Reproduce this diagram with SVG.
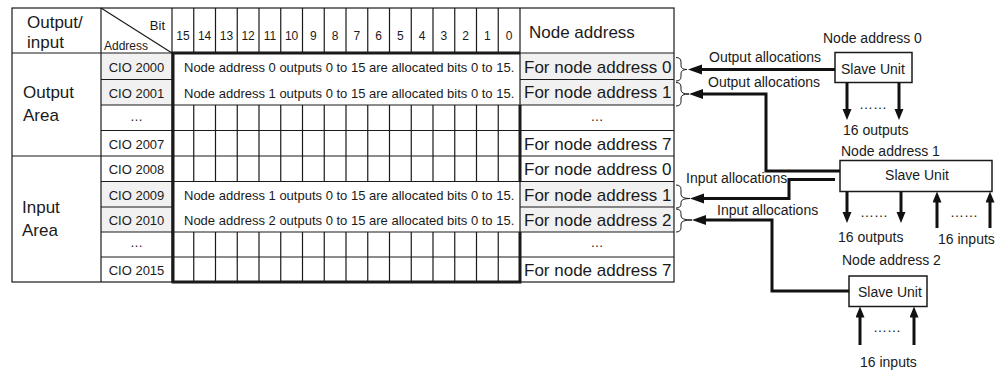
<svg xmlns="http://www.w3.org/2000/svg" width="1002" height="372" viewBox="0 0 1002 372">
<style>
text{font-family:"Liberation Sans",Arial,sans-serif;fill:#1a1a1a}
.s13{font-size:13px}.s12{font-size:12px}.s17{font-size:17px}.s14{font-size:14px}
.ln{stroke:#1a1a1a;stroke-width:1.2;fill:none}
.thk{stroke:#1a1a1a;stroke-width:3;fill:none}
.gray{fill:#f1f1f1}
.box{fill:#fff;stroke:#1a1a1a;stroke-width:1.5}
.con{stroke:#111;stroke-width:3;fill:none}
.br{stroke:#1a1a1a;stroke-width:1;fill:none}
.mid{text-anchor:middle}
</style>
<defs>
<marker id="ah" markerUnits="userSpaceOnUse" markerWidth="15" markerHeight="11" refX="3" refY="5" orient="auto"><path d="M0,0 L14,5 L0,10 z" fill="#111"/></marker>
<marker id="as" markerUnits="userSpaceOnUse" markerWidth="12" markerHeight="10" refX="2" refY="4.5" orient="auto"><path d="M0,0 L11,4.5 L0,9 z" fill="#111"/></marker>
</defs>
<rect width="1002" height="372" fill="#fff"/>
<g id="table">
<rect class="gray" x="101" y="53" width="71" height="52"/>
<rect class="gray" x="101" y="181.5" width="71" height="50.5"/>
<rect class="gray" x="520" y="53" width="154" height="52"/>
<rect class="gray" x="520" y="181.5" width="154" height="50.5"/>
<rect class="ln" x="12" y="8" width="662" height="274"/>
<line class="ln" x1="12" y1="53" x2="674" y2="53"/>
<line class="ln" x1="12" y1="156" x2="674" y2="156"/>
<line class="ln" x1="101" y1="8" x2="101" y2="282"/>
<line class="ln" x1="172" y1="8" x2="172" y2="282"/>
<line class="ln" x1="520" y1="8" x2="520" y2="282"/>
<line class="ln" x1="101" y1="8" x2="172" y2="53"/>
<path class="ln" d="M101,79.5H172M101,105H172M101,130.5H172M101,181.5H172M101,207H172M101,232H172M101,257H172"/>
<path class="ln" d="M520,79.5H674M520,105H674M520,130.5H674M520,181.5H674M520,207H674M520,232H674M520,257H674"/>
<path class="ln" d="M172,105H520M172,130.5H520M172,181.5H520M172,232H520M172,257H520"/>
<path class="ln" d="M193.75,8V53M215.5,8V53M237.25,8V53M259,8V53M280.75,8V53M302.5,8V53M324.25,8V53M346,8V53M367.75,8V53M389.5,8V53M411.25,8V53M433,8V53M454.75,8V53M476.5,8V53M498.25,8V53"/>
<path class="ln" d="M193.75,105V181.5M215.5,105V181.5M237.25,105V181.5M259,105V181.5M280.75,105V181.5M302.5,105V181.5M324.25,105V181.5M346,105V181.5M367.75,105V181.5M389.5,105V181.5M411.25,105V181.5M433,105V181.5M454.75,105V181.5M476.5,105V181.5M498.25,105V181.5"/>
<path class="ln" d="M193.75,232V282M215.5,232V282M237.25,232V282M259,232V282M280.75,232V282M302.5,232V282M324.25,232V282M346,232V282M367.75,232V282M389.5,232V282M411.25,232V282M433,232V282M454.75,232V282M476.5,232V282M498.25,232V282"/>
<path class="thk" d="M520,105V181.5M520,232V282H173V53H520"/>
<text class="s17" x="27" y="28">Output/</text>
<text class="s17" x="27" y="47.5">input</text>
<text class="s13" x="165" y="30" text-anchor="end">Bit</text>
<text class="s12" x="104" y="50">Address</text>
<g class="s12 mid">
<text x="182.9" y="40">15</text><text x="204.6" y="40">14</text><text x="226.4" y="40">13</text><text x="248.1" y="40">12</text>
<text x="269.9" y="40">11</text><text x="291.6" y="40">10</text><text x="313.4" y="40">9</text><text x="335.1" y="40">8</text>
<text x="356.9" y="40">7</text><text x="378.6" y="40">6</text><text x="400.4" y="40">5</text><text x="422.1" y="40">4</text>
<text x="443.9" y="40">3</text><text x="465.6" y="40">2</text><text x="487.4" y="40">1</text><text x="509.1" y="40">0</text>
</g>
<text class="s17" x="529" y="38">Node address</text>
<text class="s17" x="23" y="98">Output</text>
<text class="s17" x="23" y="121">Area</text>
<text class="s17" x="22" y="213">Input</text>
<text class="s17" x="22" y="236">Area</text>
<g class="s13 mid">
<text x="136.5" y="72">CIO 2000</text>
<text x="136.5" y="97.5">CIO 2001</text>
<text x="136.5" y="121">…</text>
<text x="136.5" y="148.5">CIO 2007</text>
<text x="136.5" y="174">CIO 2008</text>
<text x="136.5" y="199.5">CIO 2009</text>
<text x="136.5" y="224.5">CIO 2010</text>
<text x="136.5" y="247">…</text>
<text x="136.5" y="274.5">CIO 2015</text>
</g>
<g class="s13">
<text x="184" y="72">Node address 0 outputs 0 to 15 are allocated bits 0 to 15.</text>
<text x="184" y="97.5">Node address 1 outputs 0 to 15 are allocated bits 0 to 15.</text>
<text x="184" y="200">Node address 1 outputs 0 to 15 are allocated bits 0 to 15.</text>
<text x="184" y="225">Node address 2 outputs 0 to 15 are allocated bits 0 to 15.</text>
</g>
<g class="s17">
<text x="524" y="72.5">For node address 0</text>
<text x="524" y="98">For node address 1</text>
<text x="597" y="121" class="s13 mid">…</text>
<text x="524" y="149.5">For node address 7</text>
<text x="524" y="175">For node address 0</text>
<text x="524" y="200.5">For node address 1</text>
<text x="524" y="225.5">For node address 2</text>
<text x="597" y="247" class="s13 mid">…</text>
<text x="524" y="275.5">For node address 7</text>
</g>
<path class="br" d="M676,57.5Q681,57.5 681,62V65.5Q681,69.5 687,69.5Q681,69.5 681,73.5V76.5Q681,81 676,81"/>
<path class="br" d="M676,82.5Q681,82.5 681,87V90Q681,94 689,94Q681,94 681,98V101.5Q681,106 676,106"/>
<path class="br" d="M676,185Q681,185 681,189.5V194.5Q681,198.5 690,198.5Q681,198.5 681,202.5V204Q681,208 676,208"/>
<path class="br" d="M676,209Q681,209 681,213.5V216Q681,220 692,220Q681,220 681,224V227.5Q681,232 676,232"/>
</g>
<g id="slave0">
<text class="s14" x="823" y="43">Node address 0</text>
<rect class="box" x="835" y="52.5" width="77" height="30"/>
<text class="s14" x="841" y="74">Slave Unit</text>
<text class="s14" x="843" y="135">16 outputs</text>
<text class="s14 mid" x="873" y="109">……</text>
</g>
<g id="slave1">
<text class="s14" x="841" y="155.5">Node address 1</text>
<rect class="box" x="840" y="160.5" width="152" height="31"/>
<text class="s14 mid" x="917" y="180">Slave Unit</text>
<text class="s14 mid" x="874" y="217">……</text>
<text class="s14 mid" x="964" y="217">……</text>
<text class="s14" x="838" y="242">16 outputs</text>
<text class="s14" x="938" y="244">16 inputs</text>
</g>
<g id="slave2">
<text class="s14" x="842" y="265">Node address 2</text>
<rect class="box" x="849" y="276" width="78" height="30.5"/>
<text class="s14" x="858" y="297">Slave Unit</text>
<text class="s14 mid" x="887" y="332">……</text>
<text class="s14" x="860" y="367">16 inputs</text>
</g>
<g id="connectors">
<path class="con" marker-end="url(#ah)" d="M835,69.5H699"/>
<path class="con" marker-end="url(#ah)" d="M840,171H766V94H700"/>
<path class="con" marker-end="url(#ah)" d="M835,179.5H789V198.5H701"/>
<path class="con" marker-end="url(#ah)" d="M849,291H772V220H703"/>
<path class="con" marker-end="url(#as)" d="M847,82.5V111"/>
<path class="con" marker-end="url(#as)" d="M899,82.5V111"/>
<path class="con" marker-end="url(#as)" d="M847,191.5V214"/>
<path class="con" marker-end="url(#as)" d="M901,191.5V214"/>
<path class="con" marker-end="url(#as)" d="M937,228V200.5"/>
<path class="con" marker-end="url(#as)" d="M990,228V200.5"/>
<path class="con" marker-end="url(#as)" d="M860,345V315.5"/>
<path class="con" marker-end="url(#as)" d="M914,345V315.5"/>
<text class="s14" x="709" y="62">Output allocations</text>
<text class="s14" x="708" y="87">Output allocations</text>
<text class="s14" x="686" y="183">Input allocations</text>
<text class="s14" x="717" y="215">Input allocations</text>
</g>
</svg>
